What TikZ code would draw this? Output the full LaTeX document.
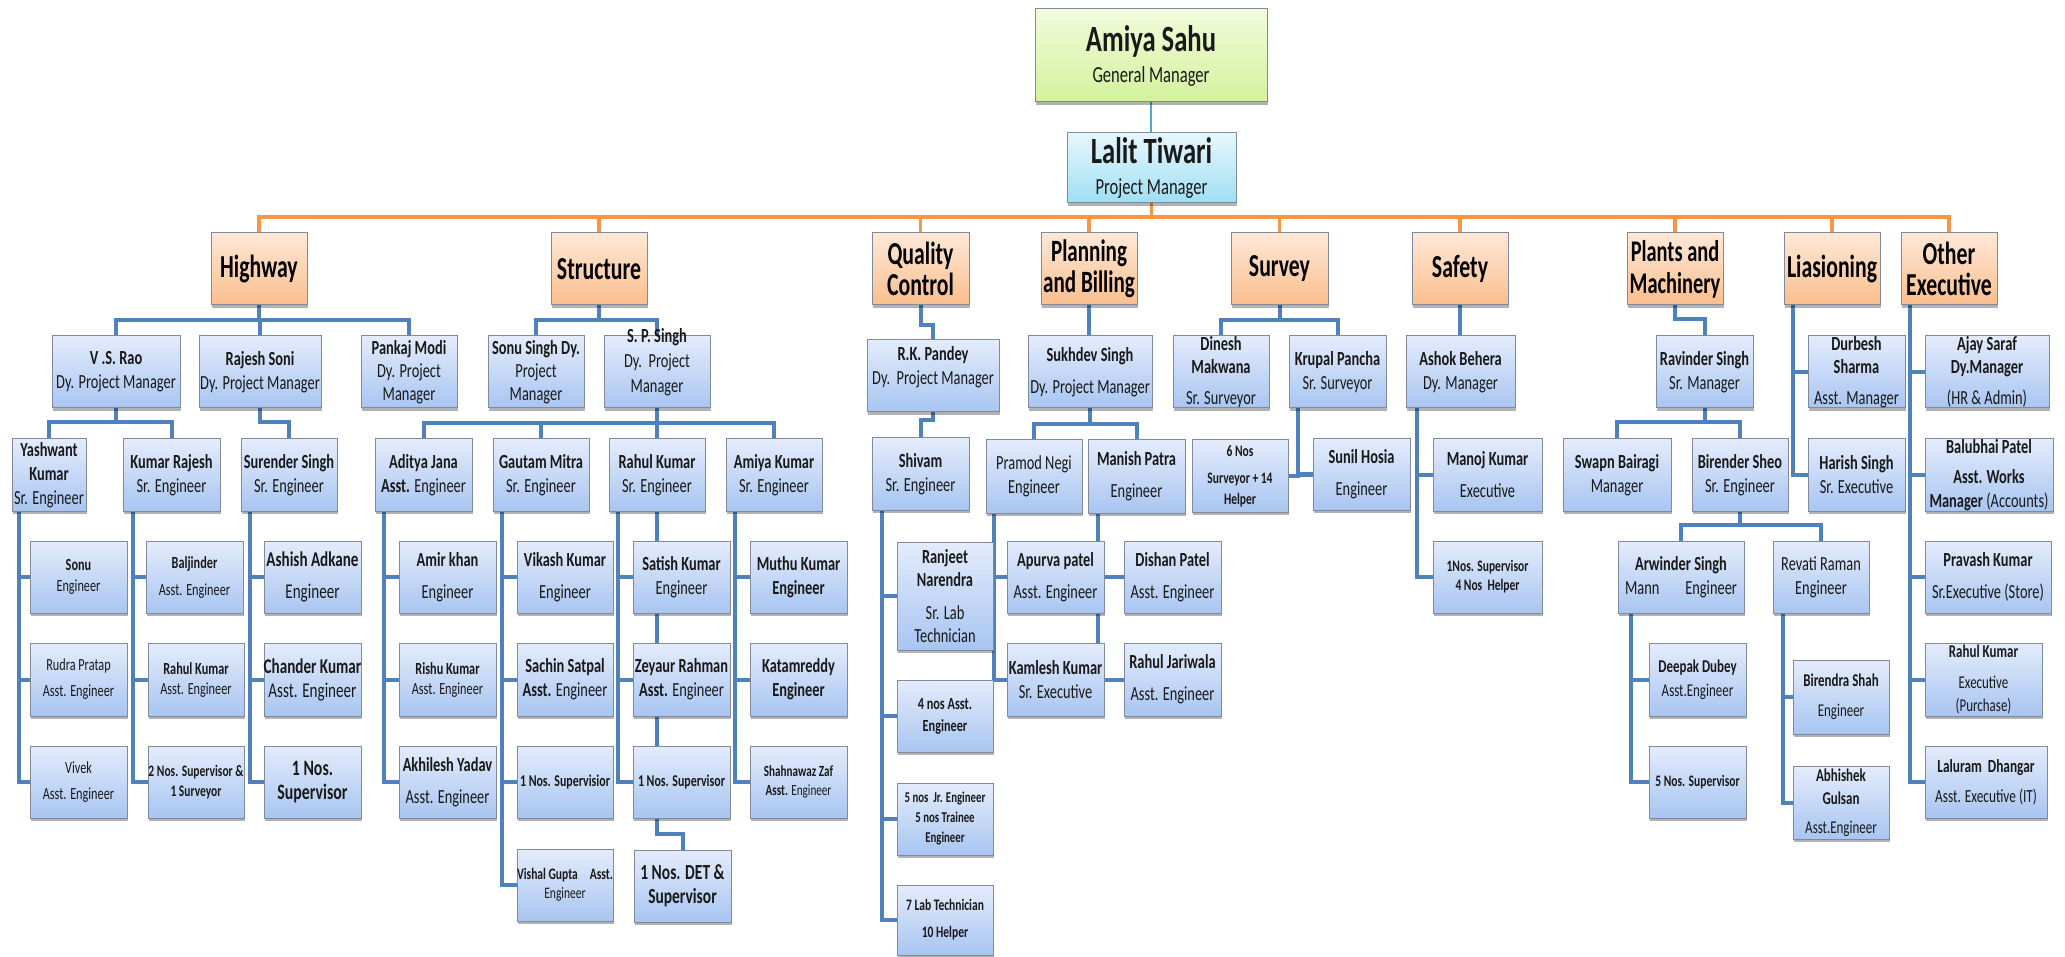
\documentclass[tikz,border=0pt]{standalone}
\usepackage{fontspec}
\setmainfont{Carlito}[FakeStretch=0.72]
\newfontfamily\deptfont{Carlito}[FakeStretch=0.68]
\usetikzlibrary{shadows}
\pgfdeclarelayer{bg}
\pgfsetlayers{bg,main}
\definecolor{bluetop}{HTML}{E4ECFC}
\definecolor{bluebot}{HTML}{A8C5F1}
\definecolor{orgtop}{HTML}{FEE8D8}
\definecolor{orgbot}{HTML}{FBBE8C}
\definecolor{grntop}{HTML}{F2FBDC}
\definecolor{grnbot}{HTML}{D3F29C}
\definecolor{cyntop}{HTML}{E6F7FD}
\definecolor{cynbot}{HTML}{9FDFF4}
\definecolor{edgegray}{HTML}{7F8B9C}
\definecolor{conblue}{HTML}{4F81BD}
\definecolor{conorg}{HTML}{F79646}
\definecolor{conteal}{HTML}{4BACC6}
\newcommand\fz[2]{\fontsize{#1}{#2}\selectfont}
\newcommand\nm[1]{{\bfseries #1}}
\tikzset{
 basebox/.style={draw=edgegray,line width=1pt,inner sep=0pt,outer sep=0pt,
   drop shadow={shadow xshift=1pt,shadow yshift=-3pt,opacity=0.3,fill=black}},
 bluebox/.style={basebox,top color=bluetop,bottom color=bluebot},
 orgbox/.style={basebox,top color=orgtop,bottom color=orgbot},
 grnbox/.style={basebox,top color=grntop,bottom color=grnbot},
 cynbox/.style={basebox,top color=cyntop,bottom color=cynbot},
 txt/.style={align=center,inner sep=0pt,font=\fz{20}{24},text=black!90},
 dept/.style={font=\deptfont\fz{32}{31}\bfseries,text=black},
 conn/.style={draw=conblue,line width=4pt},
 oconn/.style={draw=conorg,line width=3.5pt},
 tconn/.style={draw=conteal,line width=2.8pt}
}
\newcommand\obox[8][bluebox]{%
  \pgfmathsetmacro\bxw{#5-#3}%
  \pgfmathsetmacro\bxh{#6-#4}%
  \node[#1,minimum width=\bxw pt,minimum height=\bxh pt] (#2) at ({(#3+#5)/2},{(#4+#6)/2}) {};%
  \node[txt,#7] (#2t) at (#2.center) {#8};%
}
\begin{document}
\begin{tikzpicture}[x=1pt,y=-1pt]
\useasboundingbox (0,0) rectangle (2065,957);
% top
\obox[grnbox]{gman}{1035}{9}{1267}{102}{font=\fz{23}{31}}{{\fz{37}{37}\bfseries Amiya Sahu}\\General Manager}
\obox[cynbox]{pman}{1067}{133}{1236}{203}{font=\fz{23}{31}}{{\fz{37}{37}\bfseries Lalit Tiwari}\\Project Manager}
% departments
\obox[orgbox]{hw}{211}{233}{307}{305}{dept}{Highway}
\obox[orgbox]{st}{551}{233}{647}{305}{dept}{Structure}
\obox[orgbox]{qc}{872}{233}{969}{305}{dept}{Quality\\Control}
\obox[orgbox]{pb}{1041}{233}{1137}{305}{dept,font=\deptfont\fz{31}{31}\bfseries}{Planning\\and Billing}
\obox[orgbox]{sv}{1231}{233}{1328}{305}{dept}{Survey}
\obox[orgbox]{saf}{1412}{233}{1508}{305}{dept}{Safety}
\obox[orgbox]{pm}{1627}{233}{1723}{305}{dept,font=\deptfont\fz{30}{32}\bfseries}{Plants and\\Machinery}
\obox[orgbox]{lia}{1784}{233}{1880}{305}{dept}{Liasioning}
\obox[orgbox]{oe}{1901}{233}{1997}{305}{dept}{Other\\Executive}
% level 2
\obox{vsr}{52}{336}{180}{408}{}{\nm{V .S. Rao}\\Dy. Project Manager}
\obox{rsoni}{199}{336}{321}{408}{}{\nm{Rajesh Soni}\\Dy. Project Manager}
\obox{pmodi}{361}{336}{457}{408}{font=\fz{20}{23}}{\nm{Pankaj Modi}\\Dy. Project\\Manager}
\obox{ssingh}{488}{336}{584}{408}{font=\fz{20}{23}}{\nm{Sonu Singh Dy.}\\Project\\Manager}
\obox{sps}{604}{336}{710}{408}{font=\fz{20}{25},yshift=10pt}{\nm{S. P. Singh}\\Dy.\ \ Project\\Manager}
\obox{rkp}{867}{340}{999}{412}{yshift=9pt}{\nm{R.K. Pandey}\\Dy.\ \ Project Manager}
\obox{sukh}{1028}{336}{1152}{408}{}{\nm{Sukhdev Singh}\\[8pt]Dy. Project Manager}
\obox{dmak}{1173}{336}{1269}{408}{font=\fz{20}{23}}{\nm{Dinesh}\\\nm{Makwana}\\[8pt]Sr. Surveyor}
\obox{krup}{1289}{336}{1386}{408}{}{\nm{Krupal Pancha}\\Sr. Surveyor}
\obox{ashok}{1406}{336}{1515}{408}{}{\nm{Ashok Behera}\\Dy. Manager}
\obox{ravi}{1656}{336}{1753}{408}{}{\nm{Ravinder Singh}\\Sr. Manager}
\obox{durb}{1808}{336}{1905}{408}{font=\fz{20}{23}}{\nm{Durbesh}\\\nm{Sharma}\\[8pt]Asst. Manager}
\obox{ajay}{1925}{336}{2049}{408}{font=\fz{20}{23}}{\nm{Ajay Saraf}\\\nm{Dy.Manager}\\[8pt](HR \& Admin)}
% level 3
\obox{yash}{12}{439}{86}{511}{}{\nm{Yashwant}\\\nm{Kumar}\\Sr. Engineer}
\obox{krajesh}{123}{439}{220}{511}{}{\nm{Kumar Rajesh}\\Sr. Engineer}
\obox{suren}{241}{439}{337}{511}{}{\nm{Surender Singh}\\Sr. Engineer}
\obox{aditya}{375}{439}{472}{511}{}{\nm{Aditya Jana}\\\nm{Asst.} Engineer}
\obox{gautam}{493}{439}{589}{511}{}{\nm{Gautam Mitra}\\Sr. Engineer}
\obox{rahulS}{609}{439}{705}{511}{}{\nm{Rahul Kumar}\\Sr. Engineer}
\obox{amiyaK}{726}{439}{822}{511}{}{\nm{Amiya Kumar}\\Sr. Engineer}
\obox{shivam}{872}{438}{969}{510}{}{\nm{Shivam}\\Sr. Engineer}
\obox{pramod}{986}{440}{1082}{513}{}{Pramod Negi\\Engineer}
\obox{manish}{1088}{440}{1185}{513}{}{\nm{Manish Patra}\\[8pt]Engineer}
\obox{sixnos}{1192}{440}{1288}{512}{font=\fz{16}{21}\bfseries}{6 Nos\\[6pt]Surveyor + 14\\Helper}
\obox{sunil}{1313}{439}{1410}{510}{}{\nm{Sunil Hosia}\\[8pt]Engineer}
\obox{manoj}{1433}{439}{1542}{511}{}{\nm{Manoj Kumar}\\[8pt]Executive}
\obox{swapn}{1563}{439}{1671}{511}{}{\nm{Swapn Bairagi}\\Manager}
\obox{birender}{1692}{439}{1788}{511}{}{\nm{Birender Sheo}\\Sr. Engineer}
\obox{harish}{1808}{439}{1905}{511}{}{\nm{Harish Singh}\\Sr. Executive}
\obox{balu}{1925}{439}{2053}{511}{}{\nm{Balubhai Patel}\\[6pt]\nm{Asst. Works}\\\nm{Manager} (Accounts)}
% level 4
\obox{sonuE}{30}{541}{127}{613}{font=\fz{17}{21}}{\nm{Sonu}\\Engineer}
\obox{baljinder}{146}{541}{243}{613}{font=\fz{17}{21}}{\nm{Baljinder}\\[6pt]Asst. Engineer}
\obox{ashish}{264}{541}{361}{613}{font=\fz{21}{24}}{\nm{Ashish Adkane}\\[8pt]Engineer}
\obox{amir}{399}{541}{496}{613}{}{\nm{Amir khan}\\[8pt]Engineer}
\obox{vikash}{517}{541}{613}{613}{}{\nm{Vikash Kumar}\\[8pt]Engineer}
\obox{satish}{633}{541}{730}{613}{}{\nm{Satish Kumar}\\Engineer}
\obox{muthu}{750}{541}{847}{613}{}{\nm{Muthu Kumar}\\\nm{Engineer}}
\obox{ranjeet}{897}{542}{993}{650}{font=\fz{20}{23}}{\nm{Ranjeet}\\\nm{Narendra}\\[10pt]Sr. Lab\\Technician}
\obox{apurva}{1007}{541}{1104}{613}{}{\nm{Apurva patel}\\[8pt]Asst. Engineer}
\obox{dishan}{1124}{541}{1221}{613}{}{\nm{Dishan Patel}\\[8pt]Asst. Engineer}
\obox{safsup}{1433}{541}{1542}{613}{font=\fz{16}{19}\bfseries}{1Nos. Supervisor\\4 Nos\ \ Helper}
\obox{arwinder}{1618}{541}{1744}{613}{}{\nm{Arwinder Singh}\\Mann\hspace{26pt}Engineer}
\obox{revati}{1773}{541}{1869}{613}{}{Revati Raman\\Engineer}
\obox{pravash}{1925}{541}{2051}{613}{}{\nm{Pravash Kumar}\\[8pt]Sr.Executive (Store)}
% level 5
\obox{rudra}{30}{643}{127}{716}{font=\fz{17}{26}}{Rudra Pratap\\Asst. Engineer}
\obox{rahulH}{148}{643}{244}{716}{font=\fz{17}{20}}{\nm{Rahul Kumar}\\Asst. Engineer}
\obox{chander}{264}{643}{361}{716}{font=\fz{21}{24}}{\nm{Chander Kumar}\\Asst. Engineer}
\obox{rishu}{399}{643}{496}{716}{font=\fz{17}{20}}{\nm{Rishu Kumar}\\Asst. Engineer}
\obox{sachin}{517}{643}{613}{716}{}{\nm{Sachin Satpal}\\\nm{Asst.} Engineer}
\obox{zeyaur}{633}{643}{730}{716}{}{\nm{Zeyaur Rahman}\\\nm{Asst.} Engineer}
\obox{katam}{750}{643}{847}{716}{}{\nm{Katamreddy}\\\nm{Engineer}}
\obox{fournos}{897}{680}{993}{752}{font=\fz{17}{22}\bfseries}{4 nos Asst.\\Engineer}
\obox{kamlesh}{1007}{643}{1104}{716}{}{\nm{Kamlesh Kumar}\\Sr. Executive}
\obox{jariwala}{1124}{643}{1221}{716}{}{\nm{Rahul Jariwala}\\[8pt]Asst. Engineer}
\obox{deepak}{1649}{643}{1746}{716}{font=\fz{18}{24}}{\nm{Deepak Dubey}\\Asst.Engineer}
\obox{birendra}{1793}{660}{1889}{734}{font=\fz{18}{22}}{\nm{Birendra Shah}\\[8pt]Engineer}
\obox{rahulO}{1925}{643}{2042}{716}{font=\fz{18}{23}}{\nm{Rahul Kumar}\\[8pt]Executive\\(Purchase)}
% level 6
\obox{vivek}{30}{746}{127}{818}{font=\fz{17}{26}}{Vivek\\Asst. Engineer}
\obox{twonos}{148}{746}{244}{818}{font=\fz{16}{20}\bfseries}{2 Nos. Supervisor \&\\1 Surveyor}
\obox{onenos}{264}{746}{361}{818}{font=\fz{22}{24}\bfseries}{1 Nos.\\Supervisor}
\obox{akhilesh}{399}{746}{496}{818}{}{\nm{Akhilesh Yadav}\\[8pt]Asst. Engineer}
\obox{supA}{517}{746}{613}{818}{font=\fz{16.5}{20}\bfseries}{1 Nos. Supervisior}
\obox{supB}{633}{746}{730}{818}{font=\fz{16.5}{20}\bfseries}{1 Nos. Supervisor}
\obox{shahnawaz}{750}{746}{847}{818}{font=\fz{15.5}{19}}{\nm{Shahnawaz Zaf}\\\nm{Asst.} Engineer}
\obox{fivenos}{897}{783}{993}{855}{font=\fz{15}{20}\bfseries}{5 nos\ \ Jr. Engineer\\5 nos Trainee\\Engineer}
\obox{fivesup}{1649}{746}{1746}{818}{font=\fz{16}{18}\bfseries}{5 Nos. Supervisor}
\obox{abhishek}{1793}{766}{1889}{839}{font=\fz{18}{23}}{\nm{Abhishek}\\\nm{Gulsan}\\[6pt]Asst.Engineer}
\obox{laluram}{1925}{746}{2047}{818}{font=\fz{18.5}{22}}{\nm{Laluram\ \ Dhangar}\\[8pt]Asst. Executive (IT)}
% level 7
\obox{vishal}{517}{849}{613}{921}{font=\fz{16}{19}}{\nm{Vishal Gupta\hspace{12pt}Asst.}\\Engineer}
\obox{det}{634}{850}{731}{922}{font=\fz{21.5}{24}\bfseries}{1 Nos. DET \&\\Supervisor}
\obox{sevenlab}{897}{885}{993}{955}{font=\fz{16}{19}\bfseries}{7 Lab Technician\\[8pt]10 Helper}
% bar coordinates
\coordinate (mbar) at ([xshift=10pt]manish.south west);
\coordinate (kbar) at ([xshift=9pt]krup.south west);
\begin{pgfonlayer}{bg}
\draw[tconn] (gman.south) -- (gman.south |- pman.north);
\foreach \kid in {hw,st,qc,pb,sv,saf,pm,lia,oe} \draw[oconn] (pman.south) -- ++(0,14) -| (\kid.north);
\foreach \kid in {vsr,rsoni,pmodi} \draw[conn] (hw.south) -- ++(0,15) -| (\kid.north);
\foreach \kid in {ssingh,sps} \draw[conn] (st.south) -- ++(0,15) -| (\kid.north);
\draw[conn] (qc.south) -- ++(0,20) -| (rkp.north);
\draw[conn] (rkp.south) -- ++(0,8) -| (shivam.north);
\draw[conn] (pb.south) -- (pb.south |- sukh.north);
\foreach \kid in {dmak,krup} \draw[conn] (sv.south) -- ++(0,15) -| (\kid.north);
\draw[conn] (saf.south) -- (saf.south |- ashok.north);
\draw[conn] (pm.south) -- ++(0,14) -| (ravi.north);
\foreach \kid in {yash,krajesh} \draw[conn] (vsr.south) -- ++(0,14) -| (\kid.north);
\draw[conn] (rsoni.south) -- ++(0,14) -| (suren.north);
\foreach \kid in {aditya,gautam,rahulS,amiyaK} \draw[conn] (sps.south) -- ++(0,15) -| (\kid.north);
\foreach \kid in {pramod,manish} \draw[conn] (sukh.south) -- ++(0,16) -| (\kid.north);
\foreach \kid in {swapn,birender} \draw[conn] (ravi.south) -- ++(0,14) -| (\kid.north);
\foreach \kid in {arwinder,revati} \draw[conn] (birender.south) -- ++(0,14) -| (\kid.north);
% side bars
\foreach \kid in {sonuE,rudra,vivek} \draw[conn] ([xshift=7pt]yash.south west) |- (\kid.west);
\foreach \kid in {baljinder,rahulH,twonos} \draw[conn] ([xshift=10pt]krajesh.south west) |- (\kid.west);
\foreach \kid in {ashish,chander,onenos} \draw[conn] ([xshift=9pt]suren.south west) |- (\kid.west);
\foreach \kid in {amir,rishu,akhilesh} \draw[conn] ([xshift=9pt]aditya.south west) |- (\kid.west);
\foreach \kid in {vikash,sachin,supA,vishal} \draw[conn] ([xshift=9pt]gautam.south west) |- (\kid.west);
\foreach \kid in {satish,zeyaur,supB} \draw[conn] ([xshift=9pt]rahulS.south west) |- (\kid.west);
\foreach \kid in {muthu,katam,shahnawaz} \draw[conn] ([xshift=9pt]amiyaK.south west) |- (\kid.west);
\foreach \kid in {ranjeet,fournos,fivenos,sevenlab} \draw[conn] ([xshift=10pt]shivam.south west) |- (\kid.west);
\foreach \kid in {apurva,kamlesh} \draw[conn] ([xshift=8pt]pramod.south west) |- (\kid.west);
\draw[conn] (mbar) -- (mbar |- kamlesh.north);
\draw[conn] (apurva.east) -- (dishan.west);
\draw[conn] (kamlesh.east) -- (jariwala.west);
\draw[conn] (kbar) |- (sixnos.east);
\draw[conn] (kbar) |- (sunil.west);
\foreach \kid in {manoj,safsup} \draw[conn] ([xshift=11pt]ashok.south west) |- (\kid.west);
\foreach \kid in {deepak,fivesup} \draw[conn] ([xshift=13pt]arwinder.south west) |- (\kid.west);
\foreach \kid in {birendra,abhishek} \draw[conn] ([xshift=10pt]revati.south west) |- (\kid.west);
\foreach \kid in {durb,harish} \draw[conn] ([xshift=9pt]lia.south west) |- (\kid.west);
\foreach \kid in {ajay,balu,pravash,rahulO,laluram} \draw[conn] ([xshift=9pt]oe.south west) |- (\kid.west);
% chain under Rahul Kumar (Structure)
\draw[conn] (rahulS.south) -- (rahulS.south |- satish.north);
\draw[conn] (rahulS.south |- satish.south) -- (rahulS.south |- zeyaur.north);
\draw[conn] (rahulS.south |- zeyaur.south) -- (rahulS.south |- supB.north);
\draw[conn] (rahulS.south |- supB.south) -- ++(0,16) -| (det.north);
\end{pgfonlayer}
\end{tikzpicture}
\end{document}
